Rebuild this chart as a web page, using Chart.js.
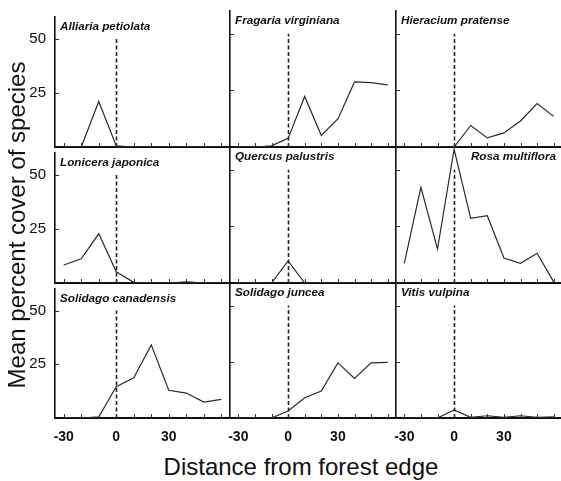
<!DOCTYPE html>
<html><head><meta charset="utf-8">
<script src="https://cdn.jsdelivr.net/npm/chart.js@4/dist/chart.umd.min.js"></script>
<style>
html,body{margin:0;padding:0;background:#fff;overflow:hidden;width:561px;height:481px;}
#wrap{position:relative;width:561px;height:481px;overflow:hidden;}
canvas{position:absolute;}
.t{position:absolute;font-family:"Liberation Sans",Arial,sans-serif;color:#111;white-space:nowrap;}
</style></head><body><div id="wrap"></div>
<script>
// ---- data ----
const distances = [-30, -20, -10, 0, 10, 20, 30, 40, 50, 60];
const speciesNames = [
  "Alliaria petiolata", "Fragaria virginiana", "Hieracium pratense",
  "Lonicera japonica", "Quercus palustris", "Rosa multiflora",
  "Solidago canadensis", "Solidago juncea", "Vitis vulpina"
];
const alliaria   = [0, 0, 21, 0.5, 0, 0, 0, 0, 0, 0];
const fragaria   = [0, 0, 0.5, 3.8, 22.3, 5.1, 12.4, 28.7, 28.4, 27.4];
const hieracium  = [0, 0, 0, 0, 9.5, 4, 6.2, 11.5, 19.2, 13.5];
const lonicera   = [8.3, 11.2, 22.7, 5.2, 0.3, 0, 0, 0.5, 0, 0];
const quercus    = [0, 0, 0, 9.7, 0, 0, 0, 0, 0, 0];
const rosa       = [8.7, 42.2, 15, 59, 28.5, 29.7, 11, 8.7, 13.1, 0.5];
const solCanadensis = [0, 0, 0.5, 14.6, 18.7, 34, 12.9, 11.6, 7.4, 8.7];
const solJuncea  = [0, 0, 0, 3.1, 9, 12, 24.5, 17.6, 24.5, 24.7];
const vitis      = [0, 0, 0, 3.6, 0.3, 1, 0.3, 1, 0.3, 0.5];
const seriesList = [alliaria, fragaria, hieracium, lonicera, quercus, rosa, solCanadensis, solJuncea, vitis];
const yTickValues = [25, 50];
const xTickValues = [-30, 0, 30];
const edgeMarker = 0;        // forest edge
const edgeMarkerTop = 50;    // dashed line height

// ---- layout ----
const colEdges = [55, 230, 396, 562];
const rowEdges = [11, 147, 283, 418];
const PADL = 50, PADR = 10, PADT = 12, PADB = 34;
const FONT = '"Liberation Sans", Arial, sans-serif';

const extras = {
  id: 'extras',
  afterDatasetsDraw(chart) {
    const {ctx, chartArea: a, scales: {x, y}} = chart;
    const o = chart.options.plugins.extras;
    ctx.save();
    // dashed forest-edge line
    ctx.strokeStyle = '#222';
    ctx.lineWidth = 1.6;
    ctx.setLineDash([4, 2.5]);
    const xe = Math.round(x.getPixelForValue(edgeMarker)) + 0.5;
    ctx.beginPath();
    ctx.moveTo(xe, y.getPixelForValue(0));
    ctx.lineTo(xe, y.getPixelForValue(edgeMarkerTop));
    ctx.stroke();
    ctx.setLineDash([]);
    // inward ticks on x baseline and y axis
    ctx.strokeStyle = '#333';
    ctx.lineWidth = 1;
    ctx.beginPath();
    distances.forEach(d => {
      const px = Math.round(x.getPixelForValue(d)) + 0.5;
      ctx.moveTo(px, a.bottom);
      ctx.lineTo(px, a.bottom - 4);
    });
    yTickValues.forEach(v => {
      const py = Math.round(y.getPixelForValue(v)) + 0.5;
      ctx.moveTo(a.left, py);
      ctx.lineTo(a.left + 4, py);
    });
    ctx.stroke();
    // species label
    ctx.fillStyle = '#111';
    ctx.font = 'italic bold 11.7px ' + FONT;
    ctx.textBaseline = 'middle';
    if (o.alignRight) {
      ctx.textAlign = 'right';
      ctx.fillText(o.label, 556 - (chart.canvas.offsetLeft), a.top + 10);
    } else {
      ctx.textAlign = 'left';
      ctx.fillText(o.label, a.left + 5, a.top + 10);
    }
    ctx.restore();
  }
};

const wrap = document.getElementById('wrap');
for (let r = 0; r < 3; r++) {
  for (let c = 0; c < 3; c++) {
    const i = r * 3 + c;
    const L = colEdges[c], R = colEdges[c + 1], T = rowEdges[r], B = rowEdges[r + 1];
    const cv = document.createElement('canvas');
    const W = (R - L) + PADL + PADR, H = (B - T) + PADT + PADB;
    cv.width = W; cv.height = H;
    cv.style.left = (L - PADL) + 'px';
    cv.style.top = (T - PADT) + 'px';
    cv.style.width = W + 'px'; cv.style.height = H + 'px';
    wrap.appendChild(cv);
    new Chart(cv, {
      type: 'line',
      data: {
        labels: distances,
        datasets: [{
          data: seriesList[i].map((v, k) => ({x: distances[k], y: v})),
          borderColor: '#2a2a2a',
          borderWidth: 1.2,
          pointRadius: 0,
          tension: 0,
          fill: false
        }]
      },
      plugins: [extras],
      options: {
        responsive: false,
        animation: false,
        devicePixelRatio: 1,
        layout: {padding: {left: 0, right: PADR, top: PADT, bottom: 0}},
        plugins: {
          legend: {display: false},
          tooltip: {enabled: false},
          extras: {label: speciesNames[i], alignRight: i === 5}
        },
        scales: {
          x: {
            type: 'linear', min: -35, max: 65,
            grid: {display: false, drawTicks: false},
            border: {display: true, color: '#111', width: 2},
            afterBuildTicks: s => { s.ticks = xTickValues.map(v => ({value: v})); },
            afterFit: s => { s.height = PADB; },
            ticks: {
              display: r === 2, autoSkip: false, maxRotation: 0,
              color: '#111', padding: 11,
              font: {family: FONT, size: 14, weight: 'bold'}
            }
          },
          y: {
            type: 'linear', min: 0, max: 60,
            grid: {display: false, drawTicks: false},
            border: {display: true, color: '#111', width: 1.6},
            afterBuildTicks: s => { s.ticks = yTickValues.map(v => ({value: v})); },
            afterFit: s => { s.width = PADL; },
            ticks: {
              display: c === 0, autoSkip: false,
              color: '#111', padding: 9,
              font: {family: FONT, size: 15}
            }
          }
        }
      }
    });
  }
}

// axis titles
const xt = document.createElement('div');
xt.className = 't';
xt.textContent = 'Distance from forest edge';
xt.style.cssText += 'font-size:24px;left:1px;width:600px;text-align:center;top:453px;';
wrap.appendChild(xt);
const yt = document.createElement('div');
yt.className = 't';
yt.textContent = 'Mean percent cover of species';
yt.style.cssText += 'font-size:24px;width:400px;text-align:center;left:' + (17 - 200) + 'px;top:' + (225 - 13) + 'px;transform:rotate(-90deg);transform-origin:50% 50%;line-height:26px;';
wrap.appendChild(yt);
</script>
</body></html>
